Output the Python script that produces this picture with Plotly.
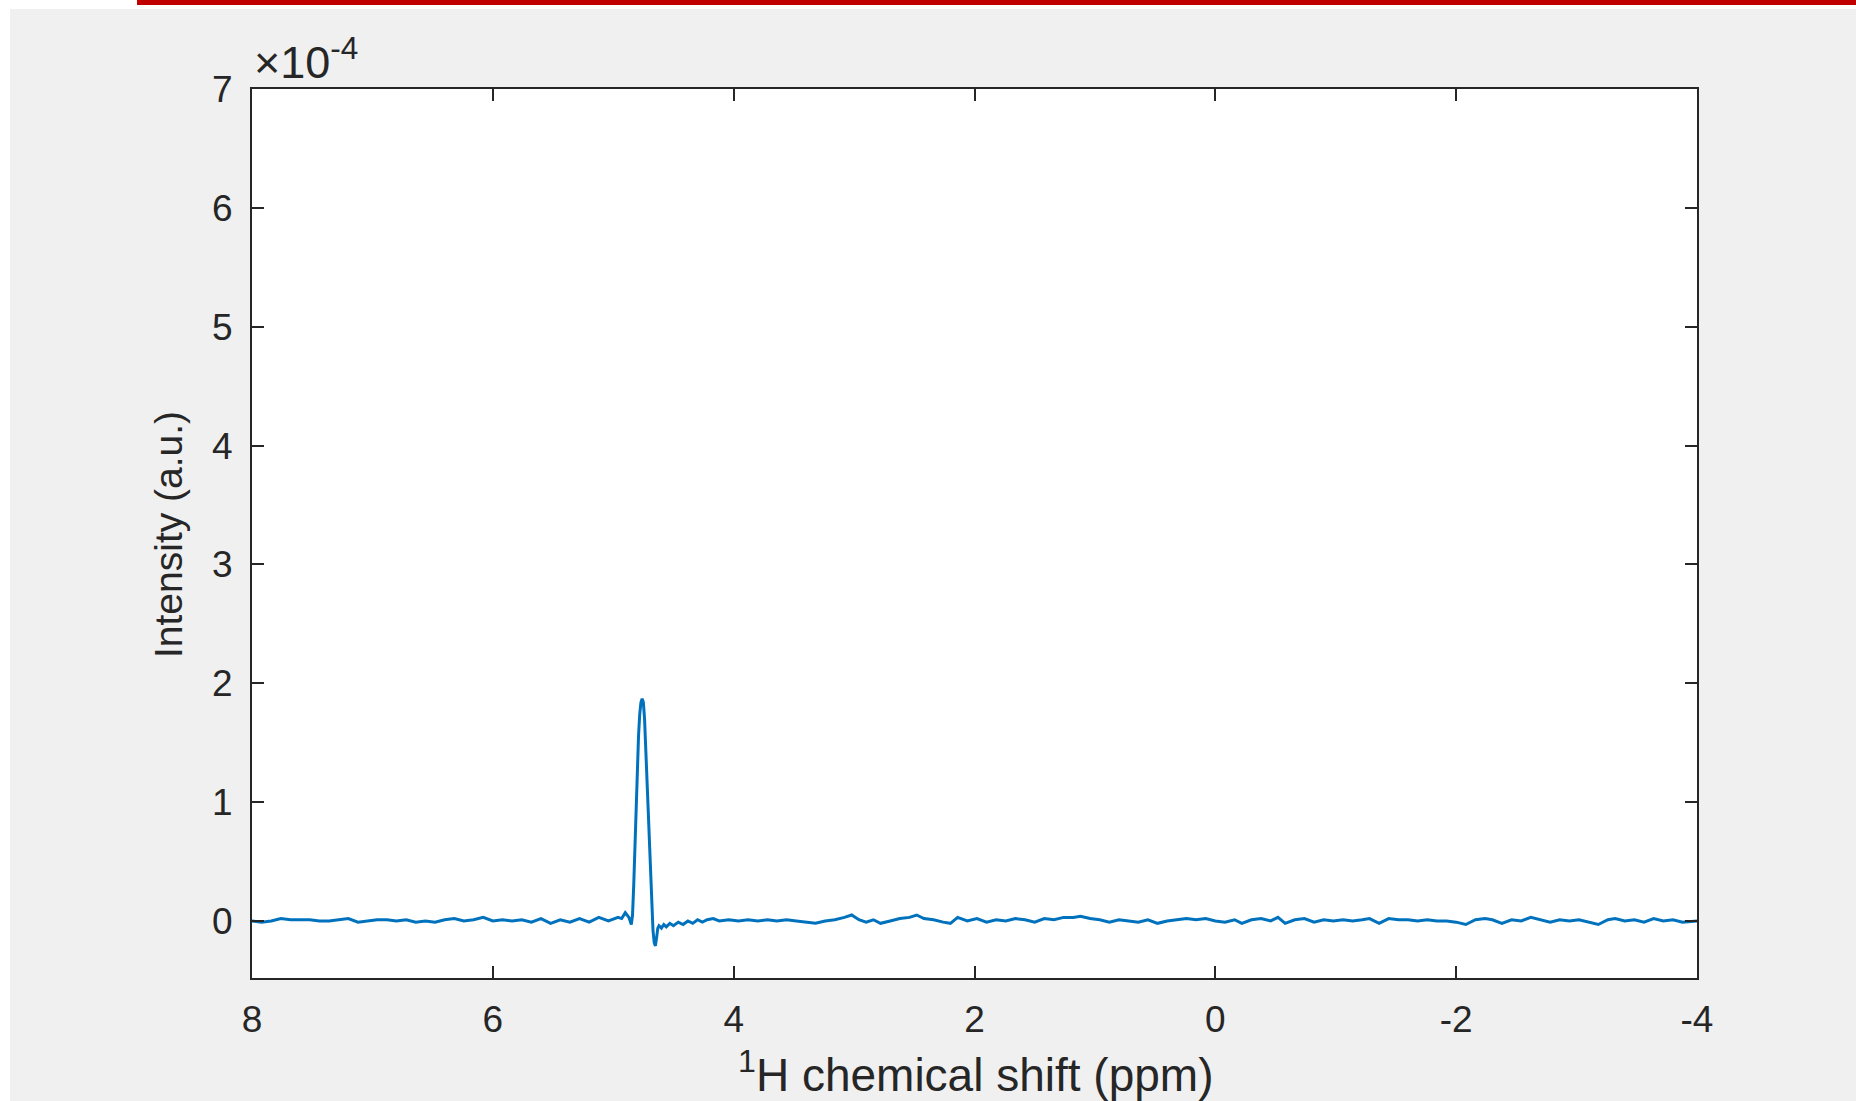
import plotly.graph_objects as go

# chemical shift (ppm) and intensity (x 1e-4, a.u.)
shift_ppm = [
    8.00, 7.92, 7.84, 7.76, 7.68, 7.60, 7.52, 7.44, 7.36, 7.28, 7.20, 7.12, 7.04, 6.96, 6.88, 6.80,
    6.72, 6.64, 6.56, 6.48, 6.40, 6.32, 6.24, 6.16, 6.08, 6.00, 5.92, 5.84, 5.76, 5.68, 5.60, 5.52,
    5.44, 5.36, 5.28, 5.20, 5.12, 5.04, 4.96, 4.93, 4.90, 4.87, 4.85, 4.84, 4.83, 4.82, 4.81, 4.80,
    4.79, 4.78, 4.77, 4.76, 4.75, 4.74, 4.73, 4.72, 4.71, 4.70, 4.69, 4.68, 4.67, 4.66, 4.65, 4.64,
    4.63, 4.62, 4.60, 4.58, 4.56, 4.53, 4.50, 4.46, 4.42, 4.38, 4.34, 4.30, 4.26, 4.22, 4.17, 4.12,
    4.04, 3.96, 3.88, 3.80, 3.72, 3.64, 3.56, 3.48, 3.40, 3.32, 3.24, 3.16, 3.08, 3.02, 2.96, 2.90,
    2.84, 2.78, 2.70, 2.62, 2.54, 2.48, 2.42, 2.34, 2.26, 2.20, 2.14, 2.06, 1.98, 1.90, 1.82, 1.74,
    1.66, 1.58, 1.50, 1.42, 1.34, 1.26, 1.18, 1.12, 1.04, 0.96, 0.88, 0.80, 0.72, 0.64, 0.56, 0.48,
    0.40, 0.32, 0.24, 0.16, 0.08, 0.00, -0.08, -0.16, -0.22, -0.30, -0.38, -0.46, -0.52, -0.58, -0.66, -0.74,
    -0.82, -0.90, -0.98, -1.06, -1.14, -1.22, -1.28, -1.36, -1.44, -1.52, -1.60, -1.68, -1.76, -1.84, -1.92, -2.00,
    -2.08, -2.16, -2.24, -2.30, -2.38, -2.46, -2.54, -2.62, -2.70, -2.78, -2.86, -2.94, -3.02, -3.10, -3.18, -3.26,
    -3.32, -3.40, -3.48, -3.56, -3.64, -3.72, -3.80, -3.88, -3.96, -4.00,
]
intensity_e4 = [
    0.00, -0.01, 0.00, 0.02, 0.01, 0.01, 0.01, 0.00, 0.00, 0.01, 0.02, -0.01, 0.00, 0.01, 0.01, 0.00,
    0.01, -0.01, 0.00, -0.01, 0.01, 0.02, 0.00, 0.01, 0.03, 0.00, 0.01, 0.00, 0.01, -0.01, 0.02, -0.02,
    0.01, -0.01, 0.02, -0.01, 0.03, 0.00, 0.03, 0.02, 0.07, 0.03, -0.03, 0.05, 0.30, 0.62, 0.98, 1.30,
    1.56, 1.74, 1.84, 1.87, 1.84, 1.70, 1.45, 1.16, 0.86, 0.56, 0.30, 0.08, -0.08, -0.18, -0.21, -0.14,
    -0.06, -0.04, -0.06, -0.03, -0.05, -0.02, -0.04, -0.01, -0.03, 0.00, -0.02, 0.01, -0.01, 0.01, 0.02, 0.00,
    0.01, 0.00, 0.01, 0.00, 0.01, 0.00, 0.01, 0.00, -0.01, -0.02, 0.00, 0.01, 0.03, 0.05, 0.01, -0.01,
    0.01, -0.02, 0.00, 0.02, 0.03, 0.05, 0.02, 0.01, -0.01, -0.02, 0.03, 0.00, 0.02, -0.01, 0.01, 0.00,
    0.02, 0.01, -0.01, 0.02, 0.01, 0.03, 0.03, 0.04, 0.02, 0.01, -0.01, 0.01, 0.00, -0.01, 0.01, -0.02,
    0.00, 0.01, 0.02, 0.01, 0.02, 0.00, -0.01, 0.01, -0.02, 0.01, 0.02, 0.00, 0.03, -0.02, 0.01, 0.02,
    -0.01, 0.01, 0.00, 0.01, 0.00, 0.01, 0.02, -0.02, 0.02, 0.01, 0.01, 0.00, 0.01, 0.00, 0.00, -0.01,
    -0.03, 0.01, 0.02, 0.01, -0.02, 0.01, 0.00, 0.03, 0.01, -0.01, 0.01, 0.00, 0.01, -0.01, -0.03, 0.01,
    0.02, 0.00, 0.01, -0.01, 0.02, 0.00, 0.01, -0.01, 0.00, 0.00,
]
x_ticks = [8, 6, 4, 2, 0, -2, -4]
x_tick_labels = ["8", "6", "4", "2", "0", "-2", "-4"]
y_ticks = [0, 1, 2, 3, 4, 5, 6, 7]
y_tick_labels = ["0", "1", "2", "3", "4", "5", "6", "7"]

W, H = 1856, 1101
L, R, T, B = 252, 1697, 89, 978
FONT = "Liberation Sans, Arial, sans-serif"
TXT = "#262626"


def px_x(p):
    return (p - L) / (R - L)


def px_y(p):
    return (B - p) / (B - T)


fig = go.Figure()
fig.add_trace(go.Scatter(
    x=shift_ppm, y=intensity_e4, mode="lines",
    line=dict(color="#0072BD", width=3), showlegend=False, hoverinfo="skip",
))

axis_common = dict(
    showline=True, linecolor=TXT, linewidth=2, mirror="ticks",
    ticks="inside", ticklen=12, tickwidth=2, tickcolor=TXT,
    showgrid=False, zeroline=False,
    tickfont=dict(family=FONT, size=37, color=TXT),
)

fig.update_layout(
    width=W, height=H,
    margin=dict(l=L, r=W - R, t=T, b=H - B, pad=0),
    paper_bgcolor="#f0f0f0", plot_bgcolor="#ffffff",
    xaxis=dict(range=[8, -4], tickvals=x_ticks, ticktext=x_tick_labels,
               ticklabelstandoff=8, **axis_common),
    yaxis=dict(range=[-0.48, 7], tickvals=y_ticks, ticktext=y_tick_labels,
               ticklabelstandoff=10, **axis_common),
    shapes=[
        # white strips at the left and top edges of the screenshot
        dict(type="rect", xref="paper", yref="paper", x0=px_x(0), x1=px_x(10), y0=px_y(H), y1=px_y(0),
             fillcolor="#ffffff", line=dict(width=0), layer="below"),
        dict(type="rect", xref="paper", yref="paper", x0=px_x(0), x1=px_x(W), y0=px_y(9), y1=px_y(0),
             fillcolor="#ffffff", line=dict(width=0), layer="below"),
        # red rule at the top
        dict(type="rect", xref="paper", yref="paper", x0=px_x(137), x1=px_x(W), y0=px_y(5), y1=px_y(0),
             fillcolor="#c00000", line=dict(width=0), layer="above"),
    ],
    annotations=[
        dict(text="\u00d710<sup>-4</sup>", xref="paper", yref="paper", x=px_x(252), y=px_y(90),
             xanchor="left", yanchor="bottom", showarrow=False,
             font=dict(family=FONT, size=45, color=TXT)),
        dict(text="Intensity (a.u.)", xref="paper", yref="paper", x=px_x(168), y=px_y(535),
             xanchor="center", yanchor="middle", textangle=-90, showarrow=False,
             font=dict(family=FONT, size=39, color=TXT)),
        dict(text="<sup>1</sup>H chemical shift (ppm)", xref="paper", yref="paper", x=px_x(975), y=px_y(1072),
             xanchor="center", yanchor="middle", showarrow=False,
             font=dict(family=FONT, size=46, color=TXT)),
    ],
)

fig.write_html(
    "out.html",
    config={"displayModeBar": False},
    post_script="document.body.style.margin='0px';document.body.style.overflow='hidden';",
)
